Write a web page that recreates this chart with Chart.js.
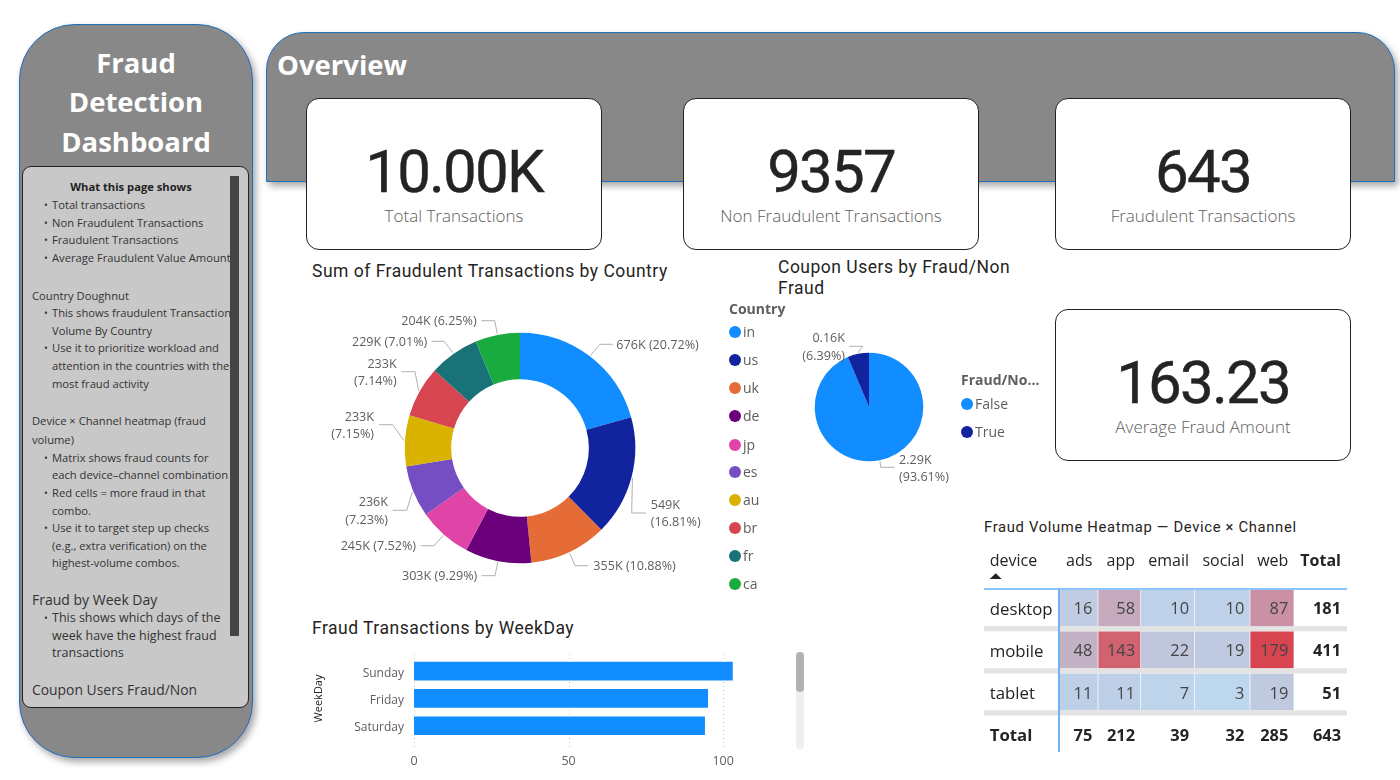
<!DOCTYPE html>
<html>
<head>
<meta charset="utf-8">
<title>Fraud Detection Dashboard</title>
<script src="https://cdn.jsdelivr.net/npm/chart.js@4/dist/chart.umd.js"></script>
<style>
  body { margin: 0; width: 1400px; height: 780px; background: #fff; overflow: hidden; font-family: "Open Sans", sans-serif; color: #252423; position: relative; }
  canvas { position: absolute; }
  .abs { position: absolute; white-space: nowrap; line-height: 1; }
  .panel { position: absolute; box-sizing: border-box; background: #888; border: 1.5px solid #1f6fc0; box-shadow: 3px 4px 7px rgba(0,0,0,.35); }
  #side { left: 19px; top: 24px; width: 234px; height: 734px; border-radius: 56px; }
  #over { left: 266px; top: 32px; width: 1129px; height: 150px; border-radius: 38px 38px 0 0; }
  #notes { position: absolute; box-sizing: border-box; left: 22px; top: 166px; width: 227px; height: 542px; background: #c8c8c8; border: 1.5px solid #222; border-radius: 9px; }
  #thumb { position: absolute; left: 230px; top: 176px; width: 9px; height: 460px; background: #444; }
  .head { color: #fff; font-weight: 700; font-size: 27.5px; }
  .card { position: absolute; box-sizing: border-box; width: 296px; height: 152px; background: #fff; border: 1.5px solid #222; border-radius: 13px; }
  .big { position: absolute; left: 0; right: 0; top: 43px; text-align: center; font: 400 60px/1 Roboto, sans-serif; letter-spacing: -1.8px; color: #252423; -webkit-text-stroke: .4px #252423; }
  .cap { position: absolute; left: 0; right: 0; top: 106px; text-align: center; font-size: 17px; line-height: 22px; font-weight: 300; color: #605e5c; }
  .title { font-family: Roboto, sans-serif; font-size: 17.5px; color: #252423; letter-spacing: .5px; }
  .lg { font-size: 14px; color: #605e5c; }
  .lgt { font-size: 14px; font-weight: 700; color: #605e5c; }
  .dot { position: absolute; width: 12px; height: 12px; border-radius: 50%; }
  .note { font-size: 11.2px; color: #333; }
  #sb1 { position: absolute; left: 796px; top: 652px; width: 8px; height: 97px; border-radius: 4px; background: #efefef; }
  #sb2 { position: absolute; left: 796px; top: 652px; width: 8px; height: 40px; border-radius: 4px; background: #b3b3b3; }
</style>
</head>
<body>
<div id="side" class="panel"></div>
<div id="over" class="panel"></div>
<div id="notes"></div>
<div id="thumb"></div>
<div id="sb1"></div><div id="sb2"></div>
<canvas id="donut" width="400" height="300" style="left:320px;top:298px"></canvas>
<canvas id="pie" width="200" height="200" style="left:769px;top:307px"></canvas>
<canvas id="bars" width="479" height="125" style="left:306px;top:650px"></canvas>
<canvas id="heat" width="366" height="215" style="left:984px;top:540px"></canvas>
<script>
// data
const countries = ['in', 'us', 'uk', 'de', 'jp', 'es', 'au', 'br', 'fr', 'ca'];
const countryValues = [676, 549, 355, 303, 245, 236, 233, 233, 229, 204];
const countryTotals = ['676K', '549K', '355K', '303K', '245K', '236K', '233K', '233K', '229K', '204K'];
const countryShares = ['20.72%', '16.81%', '10.88%', '9.29%', '7.52%', '7.23%', '7.15%', '7.14%', '7.01%', '6.25%'];
const couponGroups = ['False', 'True'];
const couponValues = [2290, 156];
const couponTotals = ['2.29K', '0.16K'];
const couponShares = ['93.61%', '6.39%'];
const weekdays = ['Sunday', 'Friday', 'Saturday'];
const weekdayFraud = [103, 95, 94];
const weekdayTicks = [0, 50, 100];
const devices = ['desktop', 'mobile', 'tablet', 'Total'];
const channels = ['ads', 'app', 'email', 'social', 'web', 'Total'];
const desktopCounts = [16, 58, 10, 10, 87, 181];
const mobileCounts = [48, 143, 22, 19, 179, 411];
const tabletCounts = [11, 11, 7, 3, 19, 51];
const totalCounts = [75, 212, 39, 32, 285, 643];
const kpiCards = [['10.00K', 'Total Transactions'], ['9357', 'Non Fraudulent Transactions'], ['643', 'Fraudulent Transactions'], ['163.23', 'Average Fraud Amount']];

// colours and layout
const palette = ['#118DFF', '#12239E', '#E66C37', '#6B007B', '#E044A7', '#744EC2', '#D9B300', '#D64550', '#197278', '#1AAB40'];
const greyText = '#605E5C';
const labelFont = '12.6px "Open Sans"';
const cardSpots = [[306, 98], [683, 98], [1055, 98], [1055, 309]];
const columnWidths = [39.3, 42.7, 54, 55.3, 44, 52.7];
// callouts, relative to the centre of the ring: elbow x/y, line end x, text x, align, text line y's
const donutCallouts = [
  [80, -103.7, 92.7, 96.3, 'left', [-102.3]],
  [111.7, 65, 126, 130.7, 'left', [57.7, 74.7]],
  [55, 117.7, 68.3, 73.3, 'left', [118.7]],
  [-25, 127.7, -38.3, -42.7, 'right', [128.7]],
  [-86, 97.7, -99.3, -104, 'right', [98.7]],
  [-113.3, 62.3, -127.3, -132, 'right', [54.3, 72.7]],
  [-127.3, -23.3, -141, -146, 'right', [-30.7, -13.7]],
  [-105, -76.3, -118.3, -123.3, 'right', [-83.7, -66.3]],
  [-76, -106.7, -88.3, -92.7, 'right', [-105.3]],
  [-25.3, -127.3, -38.7, -43.3, 'right', [-126.3]]
];
const pieCallouts = [
  [11.7, 60.3, 25.7, 30, 'left', [53, 70.7]],
  [-6.3, -60.7, -19.7, -24, 'right', [-68.3, -50.3]]
];
// side panel text: y centre, indent level (0 plain, 1 bullet, 2 wrapped), text, optional size / weight
const noteLines = [
  [187, 3, 'What this page shows'],
  [205, 1, 'Total transactions'], [223, 1, 'Non Fraudulent Transactions'], [240, 1, 'Fraudulent Transactions'], [258, 1, 'Average Fraudulent Value Amount'],
  [296, 0, 'Country Doughnut'],
  [313, 1, 'This shows fraudulent Transaction'], [331, 2, 'Volume By Country'],
  [348, 1, 'Use it to prioritize workload and'], [366, 2, 'attention in the countries with the'], [384, 2, 'most fraud activity'],
  [421, 0, 'Device × Channel heatmap (fraud'], [440, 0, 'volume)'],
  [458, 1, 'Matrix shows fraud counts for'], [475, 2, 'each device–channel combination'],
  [493, 1, 'Red cells = more fraud in that'], [511, 2, 'combo.'],
  [528, 1, 'Use it to target step up checks'], [546, 2, '(e.g., extra verification) on the'], [563, 2, 'highest-volume combos.'],
  [600, 0, 'Fraud by Week Day', 14],
  [618, 1, 'This shows which days of the', 12.5], [636, 2, 'week have the highest fraud', 12.5], [653, 2, 'transactions', 12.5],
  [690, 0, 'Coupon Users Fraud/Non', 13.9]
];

function addText(cls, x, yCentre, text, extra) {
  const el = document.createElement('div');
  el.className = 'abs ' + cls;
  el.textContent = text;
  el.style.left = x + 'px';
  el.style.top = yCentre + 'px';
  el.style.transform = 'translateY(-50%)';
  if (extra) Object.assign(el.style, extra);
  document.body.appendChild(el);
  return el;
}
function addLegend(title, names, x, titleY, rowYs) {
  addText('lgt', x, titleY, title);
  names.forEach((name, i) => {
    const y = rowYs[i];
    const d = document.createElement('div');
    d.className = 'dot';
    d.style.cssText = `left:${x}px;top:${y - 6}px;background:${palette[i]}`;
    document.body.appendChild(d);
    addText('lg', x + 14, y, name);
  });
}

['Fraud', 'Detection', 'Dashboard'].forEach((t, i) => addText('head', 136, [63, 102, 142][i], t, { transform: 'translate(-50%,-50%)' }));
addText('head', 277, 65, 'Overview');
kpiCards.forEach((c, i) => {
  const card = document.createElement('div');
  card.className = 'card';
  card.style.left = cardSpots[i][0] + 'px';
  card.style.top = cardSpots[i][1] + 'px';
  card.innerHTML = `<div class="big">${c[0]}</div><div class="cap">${c[1]}</div>`;
  document.body.appendChild(card);
});
noteLines.forEach(n => {
  const extra = n[3] ? { fontSize: n[3] + 'px' } : {};
  if (n[1] === 3) {
    addText('note', 131, n[0], n[2], { transform: 'translate(-50%,-50%)', fontWeight: 700, color: '#222' });
    return;
  }
  if (n[1] === 1) addText('note', 44, n[0], '•', { fontSize: '10px' });
  addText('note', n[1] === 0 ? 32 : 52, n[0], n[2], extra);
});
addText('title', 312, 272, 'Sum of Fraudulent Transactions by Country');
addText('title', 778, 268, 'Coupon Users by Fraud/Non');
addText('title', 778, 289, 'Fraud');
addText('title', 312, 629, 'Fraud Transactions by WeekDay');
addText('title', 984, 527, 'Fraud Volume Heatmap — Device × Channel', { fontSize: '14.8px', letterSpacing: '.66px' });
addLegend('Country', countries, 729, 309, [332, 360, 388, 416, 445, 472, 500, 528, 556, 584]);
addLegend('Fraud/No...', couponGroups, 961, 380, [403.5, 431.5]);

// leader lines and value labels next to the slices
const calloutPlugin = {
  id: 'callouts',
  afterDatasetsDraw(chart, args, opts) {
    const ctx = chart.ctx;
    chart.getDatasetMeta(0).data.forEach((arc, i) => {
      const c = opts.spots[i];
      const mid = (arc.startAngle + arc.endAngle) / 2;
      ctx.save();
      ctx.strokeStyle = '#b0b0b0';
      ctx.lineWidth = 1;
      ctx.beginPath();
      ctx.moveTo(arc.x + Math.cos(mid) * (arc.outerRadius + 1), arc.y + Math.sin(mid) * (arc.outerRadius + 1));
      ctx.lineTo(arc.x + c[0], arc.y + c[1]);
      ctx.lineTo(arc.x + c[2], arc.y + c[1]);
      ctx.stroke();
      ctx.fillStyle = greyText;
      ctx.font = labelFont;
      ctx.textAlign = c[4];
      ctx.textBaseline = 'middle';
      const whole = opts.totals[i] + ' (' + opts.shares[i] + ')';
      const parts = c[5].length > 1 ? [opts.totals[i], '(' + opts.shares[i] + ')'] : [whole];
      parts.forEach((t, k) => ctx.fillText(t, arc.x + c[3], arc.y + c[5][k]));
      ctx.restore();
    });
  }
};

new Chart(document.getElementById('donut'), {
  type: 'doughnut',
  data: { labels: countries, datasets: [{ data: countryValues, backgroundColor: palette, borderWidth: 0 }] },
  options: {
    responsive: false, animation: false, cutout: '59.7%',
    layout: { padding: 34.7 },
    plugins: { legend: { display: false }, tooltip: { enabled: false }, callouts: { spots: donutCallouts, totals: countryTotals, shares: countryShares } }
  },
  plugins: [calloutPlugin]
});

new Chart(document.getElementById('pie'), {
  type: 'pie',
  data: { labels: couponGroups, datasets: [{ data: couponValues, backgroundColor: palette.slice(0, 2), borderWidth: 0 }] },
  options: {
    responsive: false, animation: false,
    layout: { padding: 45.7 },
    plugins: { legend: { display: false }, tooltip: { enabled: false }, callouts: { spots: pieCallouts, totals: couponTotals, shares: couponShares } }
  },
  plugins: [calloutPlugin]
});

// the real chart scrolls, so the dotted grid runs past the three visible rows
const dottedGrid = {
  id: 'dottedGrid',
  beforeDatasetsDraw(chart) {
    const ctx = chart.ctx, x = chart.scales.x;
    ctx.save();
    ctx.strokeStyle = '#c4c4c4';
    ctx.setLineDash([1, 3]);
    weekdayTicks.forEach(t => {
      const px = Math.round(x.getPixelForValue(t)) + .5;
      ctx.beginPath();
      ctx.moveTo(px, 4);
      ctx.lineTo(px, 100);
      ctx.stroke();
    });
    ctx.restore();
  }
};

new Chart(document.getElementById('bars'), {
  type: 'bar',
  data: { labels: weekdays, datasets: [{ data: weekdayFraud, backgroundColor: palette[0], barThickness: 18 }] },
  options: {
    indexAxis: 'y', responsive: false, animation: false,
    layout: { padding: { top: 7.5, left: 0, right: 0, bottom: 0 } },
    plugins: { legend: { display: false }, tooltip: { enabled: false } },
    scales: {
      x: {
        min: 0, max: 120, grid: { display: false }, border: { display: false },
        afterFit: s => { s.height = 35.6; },
        afterBuildTicks: s => { s.ticks = weekdayTicks.map(v => ({ value: v })); },
        ticks: { color: greyText, padding: 7, maxRotation: 0, font: { family: 'Open Sans', size: 12.5 } }
      },
      y: {
        grid: { display: false }, border: { display: false },
        afterFit: s => { s.width = 108; s.paddingTop = 0; s.paddingBottom = 0; },
        title: { display: true, text: 'WeekDay', color: '#252423', padding: { top: 6, bottom: 0 }, font: { family: 'Open Sans', size: 11 } },
        ticks: { color: greyText, padding: 2, labelOffset: 2, font: { family: 'Open Sans', size: 12 } }
      }
    }
  },
  plugins: [dottedGrid]
});

// heat colour runs from pale blue at the smallest count to red at the largest
function heatColor(count) {
  const t = (count - 3) / (179 - 3);
  const mix = (a, b) => Math.round(a + (b - a) * t);
  return `rgb(${mix(189, 214)},${mix(215, 69)},${mix(238, 80)})`;
}
const deviceRows = [desktopCounts, mobileCounts, tabletCounts, totalCounts];

const matrixText = {
  id: 'matrixText',
  beforeDatasetsDraw(chart) {
    const ctx = chart.ctx, yS = chart.scales.y, xS = chart.scales.x;
    ctx.save();
    ctx.fillStyle = '#e3e3e3';
    for (let r = 0; r < 3; r++) ctx.fillRect(0, yS.getPixelForValue(r) + 18.4, xS.right, 5.2);
    ctx.restore();
  },
  afterDatasetsDraw(chart) {
    const ctx = chart.ctx, xS = chart.scales.x, yS = chart.scales.y;
    ctx.save();
    ctx.textBaseline = 'middle';
    ctx.textAlign = 'right';
    let edge = 0;
    channels.forEach((name, i) => {
      edge += columnWidths[i];
      const px = xS.getPixelForValue(edge) - 6;
      ctx.fillStyle = '#252423';
      ctx.font = (i === 5 ? '700 ' : '') + '16px "Open Sans"';
      ctx.fillText(name, px, 21.7);
      deviceRows.forEach((row, r) => {
        ctx.font = (i === 5 || r === 3 ? '700 ' : '') + '16.4px "Open Sans"';
        ctx.fillStyle = (i === 5 || r === 3) ? '#252423' : '#444';
        ctx.fillText(row[i], px, yS.getPixelForValue(r) + 2);
      });
    });
    ctx.textAlign = 'left';
    ctx.fillStyle = '#252423';
    ctx.font = '16px "Open Sans"';
    ctx.fillText('device', 5.7, 21.7);
    ctx.beginPath();
    ctx.moveTo(5.7, 39); ctx.lineTo(17.7, 39); ctx.lineTo(11.7, 33.3); ctx.closePath();
    ctx.fill();
    ctx.fillStyle = '#8cc4ff';
    ctx.fillRect(0, 48, xS.right, 2);
    ctx.fillStyle = '#6fb1f5';
    ctx.fillRect(xS.left - 1, 49, 2, 163);
    ctx.restore();
  }
};

new Chart(document.getElementById('heat'), {
  type: 'bar',
  data: {
    labels: devices,
    datasets: channels.map((name, i) => ({
      label: name,
      data: devices.map(d => columnWidths[i]),
      backgroundColor: deviceRows.map((row, r) => (i === 5 || r === 3) ? 'rgba(0,0,0,0)' : heatColor(row[i])),
      borderColor: 'rgba(255,255,255,.25)',
      borderWidth: (i === 5) ? 0 : { right: 1 },
      barThickness: 36.8
    }))
  },
  options: {
    indexAxis: 'y', responsive: false, animation: false,
    layout: { padding: { top: 46.7, right: 3, left: 5.7, bottom: 0 } },
    plugins: { legend: { display: false }, tooltip: { enabled: false } },
    scales: {
      x: { stacked: true, display: false, min: 0, max: 288 },
      y: {
        stacked: true, grid: { display: false }, border: { display: false },
        afterFit: s => { s.width = 69.3; s.paddingTop = 0; s.paddingBottom = 0; },
        ticks: {
          crossAlign: 'far', padding: 0, labelOffset: 2, color: '#252423',
          font: c => ({ family: 'Open Sans', size: 16.8, weight: c.index === 3 ? 700 : 400 })
        }
      }
    }
  },
  plugins: [matrixText]
});
</script>
</body>
</html>
